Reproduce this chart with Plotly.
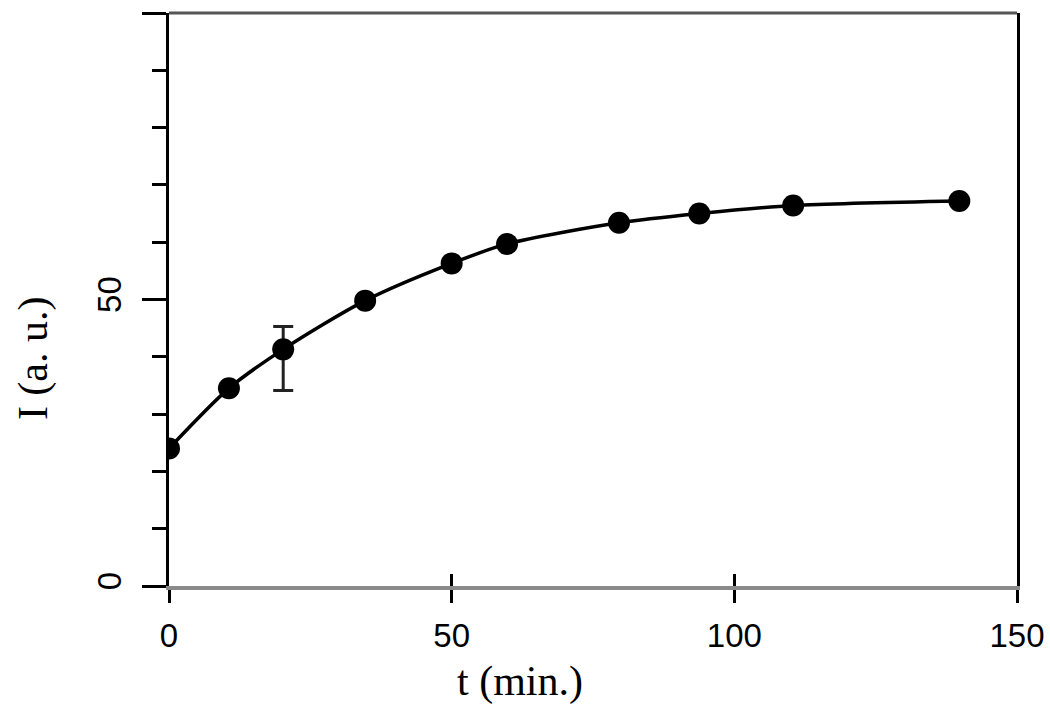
import plotly.graph_objects as go

# Data
t_min = [0, 10.6, 20.2, 34.7, 50.0, 59.8, 79.6, 93.8, 110.4, 139.8]
intensity = [24.0, 34.5, 41.3, 49.8, 56.3, 59.7, 63.4, 65.0, 66.4, 67.2]
err_t = [20.2]
err_I = [41.3]
err_plus = [4.0]
err_minus = [7.2]

x_ticks = [0, 50, 100, 150]
y_ticks = [0, 50, 100]
y_tick_text = ["0", "50", ""]

fig = go.Figure()

fig.add_trace(go.Scatter(
    x=err_t, y=err_I, mode="markers",
    marker=dict(size=1, color="rgba(0,0,0,0)"),
    error_y=dict(type="data", symmetric=False, array=err_plus, arrayminus=err_minus,
                 color="#222222", thickness=3, width=10),
    showlegend=False, hoverinfo="skip"))

fig.add_trace(go.Scatter(
    x=t_min, y=intensity, mode="lines+markers",
    line=dict(color="black", width=3.5, shape="spline", smoothing=0.8),
    marker=dict(size=22, color="black"),
    showlegend=False))

# invisible trace on overlay axis for inside ticks
fig.add_trace(go.Scatter(x=[0, 150], y=[0, 0], xaxis="x2", mode="markers",
                         marker=dict(opacity=0), showlegend=False, hoverinfo="skip"))

fig.update_layout(
    width=1050, height=708,
    margin=dict(l=169, r=33, t=13, b=122, autoexpand=False),
    paper_bgcolor="white", plot_bgcolor="white",
    xaxis=dict(range=[0, 150], tickvals=x_ticks, ticktext=[str(v) for v in x_ticks],
               ticks="outside", ticklen=13, tickwidth=3, tickcolor="black",
               showline=True, linecolor="#8a8a8a", linewidth=4,
               showgrid=False, zeroline=False, automargin=False,
               tickfont=dict(family="Liberation Sans, Arial", size=33, color="black"),
               ticklabelstandoff=4),
    xaxis2=dict(range=[0, 150], overlaying="x", side="bottom", anchor="y",
                tickvals=x_ticks, showticklabels=False, automargin=False,
                ticks="inside", ticklen=12, tickwidth=3, tickcolor="black",
                showline=False, showgrid=False, zeroline=False),
    yaxis=dict(range=[0, 100], tickvals=y_ticks, ticktext=y_tick_text, tickangle=-90,
               ticks="outside", ticklen=24, tickwidth=3, tickcolor="black",
               minor=dict(dtick=10, tick0=0, ticks="outside", ticklen=14, tickwidth=3,
                          tickcolor="black", showgrid=False),
               showline=True, linecolor="black", linewidth=3, mirror=True,
               showgrid=False, zeroline=False, automargin=False,
               tickfont=dict(family="Liberation Sans, Arial", size=33, color="black"),
               ticklabelstandoff=8),
    shapes=[dict(type="line", xref="paper", yref="paper", x0=0, x1=1, y0=1, y1=1,
                 line=dict(color="#555555", width=3))],
    annotations=[
        dict(text="t (min.)", xref="paper", yref="paper", x=0.414, y=-0.166,
             xanchor="center", yanchor="middle", showarrow=False,
             font=dict(family="Liberation Serif, Times New Roman", size=42, color="black")),
        dict(text="I (a. u.)", xref="paper", yref="paper", x=-0.159, y=0.398,
             xanchor="center", yanchor="middle", showarrow=False, textangle=-90,
             font=dict(family="Liberation Serif, Times New Roman", size=42, color="black")),
    ],
)

fig.write_html("out.html",
               config={"displayModeBar": False},
               post_script="document.body.style.margin='0';document.body.style.overflow='hidden';")
